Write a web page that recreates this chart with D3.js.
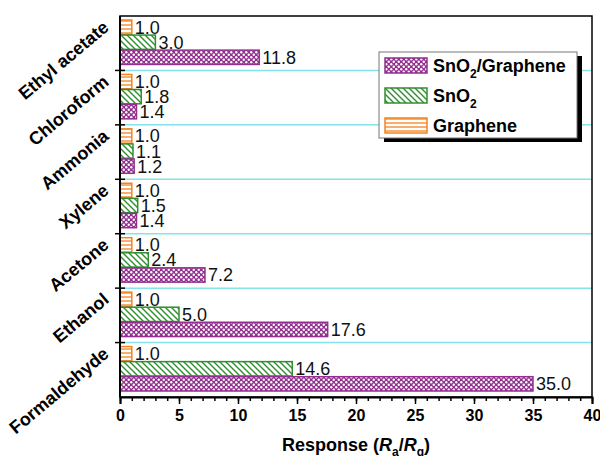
<!DOCTYPE html>
<html>
<head>
<meta charset="utf-8">
<script src="https://cdn.jsdelivr.net/npm/d3@7"></script>
<style>
  body { margin: 0; background: #fff; }
  text { font-family: "Liberation Sans", Arial, sans-serif; }
</style>
</head>
<body>
<div id="chart"></div>
<script>
// gases, bottom to top as in the figure
const gases = ['Formaldehyde', 'Ethanol', 'Acetone', 'Xylene', 'Ammonia', 'Chloroform', 'Ethyl acetate'];
const grapheneVals = [1.0, 1.0, 1.0, 1.0, 1.0, 1.0, 1.0];
const sno2Vals = [14.6, 5.0, 2.4, 1.5, 1.1, 1.8, 3.0];
const compositeVals = [35.0, 17.6, 7.2, 1.4, 1.2, 1.4, 11.8];
const xTicks = [0, 5, 10, 15, 20, 25, 30, 35, 40];

const WIDTH = 600;
const HEIGHT = 456;
const margin = { top: 16, right: 8, bottom: 59, left: 120 };

const series = [
  { key: 'Graphene', values: grapheneVals, stroke: '#f5821f', fill: 'url(#hatchH)' },
  { key: 'SnO2', values: sno2Vals, stroke: '#2f8f2f', fill: 'url(#hatchD)' },
  { key: 'SnO2/Graphene', values: compositeVals, stroke: '#93308f', fill: 'url(#hatchX)' }
];

const svg = d3.select('#chart')
  .append('svg')
  .attr('width', WIDTH)
  .attr('height', HEIGHT);

const defs = svg.append('defs');

// horizontal lines (graphene)
const pH = defs.append('pattern').attr('id', 'hatchH')
  .attr('patternUnits', 'userSpaceOnUse').attr('width', 6).attr('height', 4);
pH.append('rect').attr('width', 6).attr('height', 4).attr('fill', '#fff');
pH.append('line').attr('x1', 0).attr('x2', 6).attr('y1', 1).attr('y2', 1)
  .attr('stroke', '#f5821f').attr('stroke-width', 1.3);

// diagonal lines (SnO2)
const pD = defs.append('pattern').attr('id', 'hatchD')
  .attr('patternUnits', 'userSpaceOnUse').attr('width', 6).attr('height', 6);
pD.append('rect').attr('width', 6).attr('height', 6).attr('fill', '#fff');
pD.append('path').attr('d', 'M-1,-1 L7,7 M-1,5 L1,7 M5,-1 L7,1')
  .attr('stroke', '#2f8f2f').attr('stroke-width', 1.4);

// dense crosshatch (composite)
const pX = defs.append('pattern').attr('id', 'hatchX')
  .attr('patternUnits', 'userSpaceOnUse').attr('width', 5).attr('height', 5);
pX.append('rect').attr('width', 5).attr('height', 5).attr('fill', '#93308f');
pX.append('circle').attr('cx', 1.25).attr('cy', 1.25).attr('r', 1.2).attr('fill', '#fff');
pX.append('circle').attr('cx', 3.75).attr('cy', 3.75).attr('r', 1.2).attr('fill', '#fff');

const innerW = WIDTH - margin.left - margin.right;
const innerH = HEIGHT - margin.top - margin.bottom;

const g = svg.append('g').attr('transform', `translate(${margin.left},${margin.top})`);

const xScale = d3.scaleLinear().domain([0, 40]).range([0, innerW]);
const yScale = d3.scaleBand().domain(gases).range([innerH, 0]).padding(0);
const ySub = d3.scaleBand().domain(series.map(s => s.key))
  .range([4, yScale.bandwidth() - 6]).paddingInner(0.05);

// cyan separators between gases
g.selectAll('.sep')
  .data(gases.slice(0, -1))
  .enter().append('line')
  .attr('class', 'sep')
  .attr('x1', 0).attr('x2', innerW)
  .attr('y1', d => yScale(d)).attr('y2', d => yScale(d))
  .attr('stroke', '#86e3ec').attr('stroke-width', 1.5);

// bars
series.forEach((s) => {
  g.selectAll(null)
    .data(gases)
    .enter().append('rect')
    .attr('x', 0)
    .attr('y', d => yScale(d) + ySub(s.key))
    .attr('width', (d, i) => xScale(s.values[i]))
    .attr('height', ySub.bandwidth())
    .attr('fill', s.fill)
    .attr('stroke', s.stroke)
    .attr('stroke-width', 1.5);

  g.selectAll(null)
    .data(gases)
    .enter().append('text')
    .attr('x', (d, i) => xScale(s.values[i]) + 3)
    .attr('y', d => yScale(d) + ySub(s.key) + ySub.bandwidth() / 2)
    .attr('dy', '0.36em')
    .style('font-size', '18px')
    .style('fill', '#111')
    .text((d, i) => s.values[i].toFixed(1));
});

// frame
g.append('rect')
  .attr('width', innerW).attr('height', innerH)
  .attr('fill', 'none').attr('stroke', '#000').attr('stroke-width', 1.5);

// x axis: major ticks with minor ticks every 1
g.append('g')
  .attr('transform', `translate(0,${innerH})`)
  .call(d3.axisBottom(xScale).tickValues(d3.range(0, 41, 1)).tickSize(4).tickFormat(''))
  .call(a => a.select('.domain').remove())
  .call(a => a.selectAll('line').attr('stroke-width', 1.5));

g.append('g')
  .attr('transform', `translate(0,${innerH})`)
  .call(d3.axisBottom(xScale).tickValues(xTicks).tickSize(7).tickPadding(6))
  .call(a => a.select('.domain').attr('stroke-width', 2))
  .call(a => a.selectAll('line').attr('stroke-width', 1.5))
  .call(a => a.selectAll('text')
    .style('font-family', '"Liberation Sans", Arial, sans-serif')
    .style('font-size', '16px').style('font-weight', 'bold').attr('fill', '#000'));

// y ticks crossing the left axis at gas boundaries
g.selectAll('.ytick')
  .data(gases.slice(0, -1))
  .enter().append('line')
  .attr('x1', -5).attr('x2', 5)
  .attr('y1', d => yScale(d)).attr('y2', d => yScale(d))
  .attr('stroke', '#000').attr('stroke-width', 1.5);
g.append('line').attr('x1', 0).attr('x2', 0).attr('y1', 0).attr('y2', innerH)
  .attr('stroke', '#000').attr('stroke-width', 2);

// rotated gas names
g.selectAll('.ylab')
  .data(gases)
  .enter().append('text')
  .attr('transform', d => `translate(-10,${yScale(d) + yScale.bandwidth() / 2 - 14}) rotate(-40)`)
  .attr('text-anchor', 'end')
  .style('font-size', '18px')
  .style('font-weight', 'bold')
  .text(d => d);

// x axis title
const title = g.append('text')
  .attr('x', innerW / 2)
  .attr('y', innerH + 54)
  .attr('text-anchor', 'middle')
  .style('font-size', '18px')
  .style('font-weight', 'bold');
title.append('tspan').text('Response (');
title.append('tspan').style('font-style', 'italic').text('R');
title.append('tspan').attr('dy', 5).style('font-size', '12px').text('a');
title.append('tspan').attr('dy', -5).text('/');
title.append('tspan').style('font-style', 'italic').text('R');
title.append('tspan').attr('dy', 5).style('font-size', '12px').text('g');
title.append('tspan').attr('dy', -5).text(')');

// legend
const legend = svg.append('g').attr('transform', 'translate(379,52)');
legend.append('rect').attr('x', 5).attr('y', 4).attr('width', 198).attr('height', 86).attr('fill', '#000');
legend.append('rect').attr('width', 198).attr('height', 86)
  .attr('fill', '#fff').attr('stroke', '#777').attr('stroke-width', 1);

const legendItems = series.slice().reverse();
const legendLabels = [['SnO', '2', '/Graphene'], ['SnO', '2', ''], ['Graphene', '', '']];
legendItems.forEach((s, i) => {
  const row = legend.append('g').attr('transform', `translate(6,${6 + i * 30})`);
  row.append('rect').attr('width', 42).attr('height', 15)
    .attr('fill', s.fill).attr('stroke', s.stroke).attr('stroke-width', 1.5);
  const t = row.append('text').attr('x', 48).attr('y', 14)
    .style('font-size', '18px').style('font-weight', 'bold');
  const parts = legendLabels[i];
  t.append('tspan').text(parts[0]);
  if (parts[1]) {
    t.append('tspan').attr('dy', 6).style('font-size', '12px').text(parts[1]);
    if (parts[2]) t.append('tspan').attr('dy', -6).text(parts[2]);
  }
});
</script>
</body>
</html>
